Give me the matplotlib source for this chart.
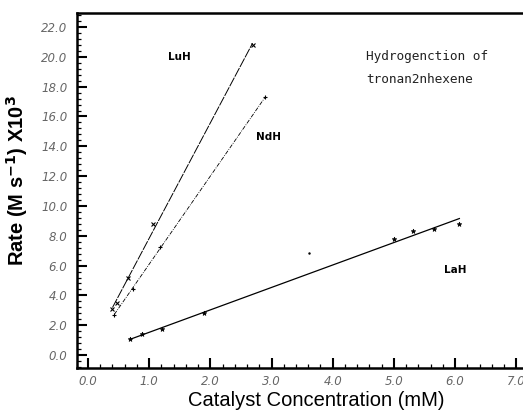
import matplotlib.pyplot as plt
from matplotlib.ticker import MultipleLocator
import numpy as np

# data
luh_x = [0.39, 0.48, 0.66, 1.07, 2.69]
luh_y = [3.1, 3.5, 5.2, 8.8, 20.8]
luh_fit = [0.40, 2.69]

ndh_x = [0.43, 0.73, 1.18, 2.90]
ndh_y = [2.7, 4.45, 7.25, 17.3]
ndh_fit = [0.43, 2.90]

lah_x = [0.69, 0.88, 1.21, 1.89, 5.00, 5.31, 5.66, 6.07]
lah_y = [1.05, 1.4, 1.75, 2.8, 7.75, 8.35, 8.45, 8.8]
lah_fit = [0.69, 6.07]
outlier = (3.62, 6.85)

x_ticks = [0.0, 1.0, 2.0, 3.0, 4.0, 5.0, 6.0, 7.0]
y_ticks = [0.0, 2.0, 4.0, 6.0, 8.0, 10.0, 12.0, 14.0, 16.0, 18.0, 20.0, 22.0]

fig = plt.figure(figsize=(5.23, 4.11), dpi=100)
ax = fig.add_axes([0.1472, 0.1046, 0.8528, 0.8638])


def fit_line(xs, ys, ends):
    k, b = np.polyfit(xs, ys, 1)
    ends = np.array(ends)
    return ends, k * ends + b


fx, fy = fit_line(luh_x, luh_y, luh_fit)
ax.plot(fx, fy, color='black', lw=0.7, linestyle=(0, (10, 1.2)))
ax.plot(luh_x, luh_y, 'x', color='black', ms=3.5, mew=0.8)

fx, fy = fit_line(ndh_x, ndh_y, ndh_fit)
ax.plot(fx, fy, color='black', lw=0.6, linestyle=(0, (5, 1.5, 1, 1.5)))
ax.plot(ndh_x, ndh_y, '+', color='black', ms=3.5, mew=0.8)

fx, fy = fit_line(lah_x, lah_y, lah_fit)
ax.plot(fx, fy, color='black', lw=0.9)
ax.plot(lah_x, lah_y, '*', color='black', ms=3.5, mew=0.5)
ax.plot(*outlier, '.', color='black', ms=1.5)

ax.set_xlim(-0.18, 7.11)
ax.set_ylim(-0.87, 22.94)

ax.xaxis.set_major_locator(plt.FixedLocator(x_ticks))
ax.yaxis.set_major_locator(plt.FixedLocator(y_ticks))
ax.xaxis.set_minor_locator(MultipleLocator(0.2))
ax.yaxis.set_minor_locator(MultipleLocator(0.4))
ax.set_xticklabels([f'{v:.1f}' for v in x_ticks])
ax.set_yticklabels([f'{v:.1f}' for v in y_ticks])

ax.tick_params(which='major', direction='in', length=7, width=1.5,
               labelsize=8.5, labelcolor='#666666', pad=5)
ax.tick_params(which='minor', direction='in', length=3, width=0.9)
ax.tick_params(axis='y', which='major', pad=7)
for lab in ax.get_xticklabels() + ax.get_yticklabels():
    lab.set_fontstyle('italic')

for s in ['left', 'bottom', 'top']:
    ax.spines[s].set_linewidth(1.8)
ax.spines['right'].set_visible(False)

ax.set_xlabel('Catalyst Concentration (mM)', fontsize=14.5,
              family='Liberation Sans', labelpad=0)
ax.xaxis.set_label_coords(0.536, -0.064)
ax.set_ylabel('Rate (M s$^{\\mathbf{-1}}$) X10$^{\\mathbf{3}}$', fontsize=14.5,
              family='Liberation Sans', fontweight='bold')
ax.yaxis.set_label_coords(-0.105, 0.527)

ax.text(1.5, 20.0, 'LuH', fontsize=7.5, fontweight='bold', ha='center', va='center')
ax.text(2.95, 14.6, 'NdH', fontsize=7.5, fontweight='bold', ha='center', va='center')
ax.text(6.0, 5.7, 'LaH', fontsize=7.5, fontweight='bold', ha='center', va='center')
ax.text(4.55, 20.0, 'Hydrogenction of', fontsize=9.2, ha='left', va='center',
        family='DejaVu Sans Mono', color='#222222')
ax.text(4.55, 18.5, 'tronan2nhexene', fontsize=9.2, ha='left', va='center',
        family='DejaVu Sans Mono', color='#222222')

fig.savefig('out.png', dpi=100)
